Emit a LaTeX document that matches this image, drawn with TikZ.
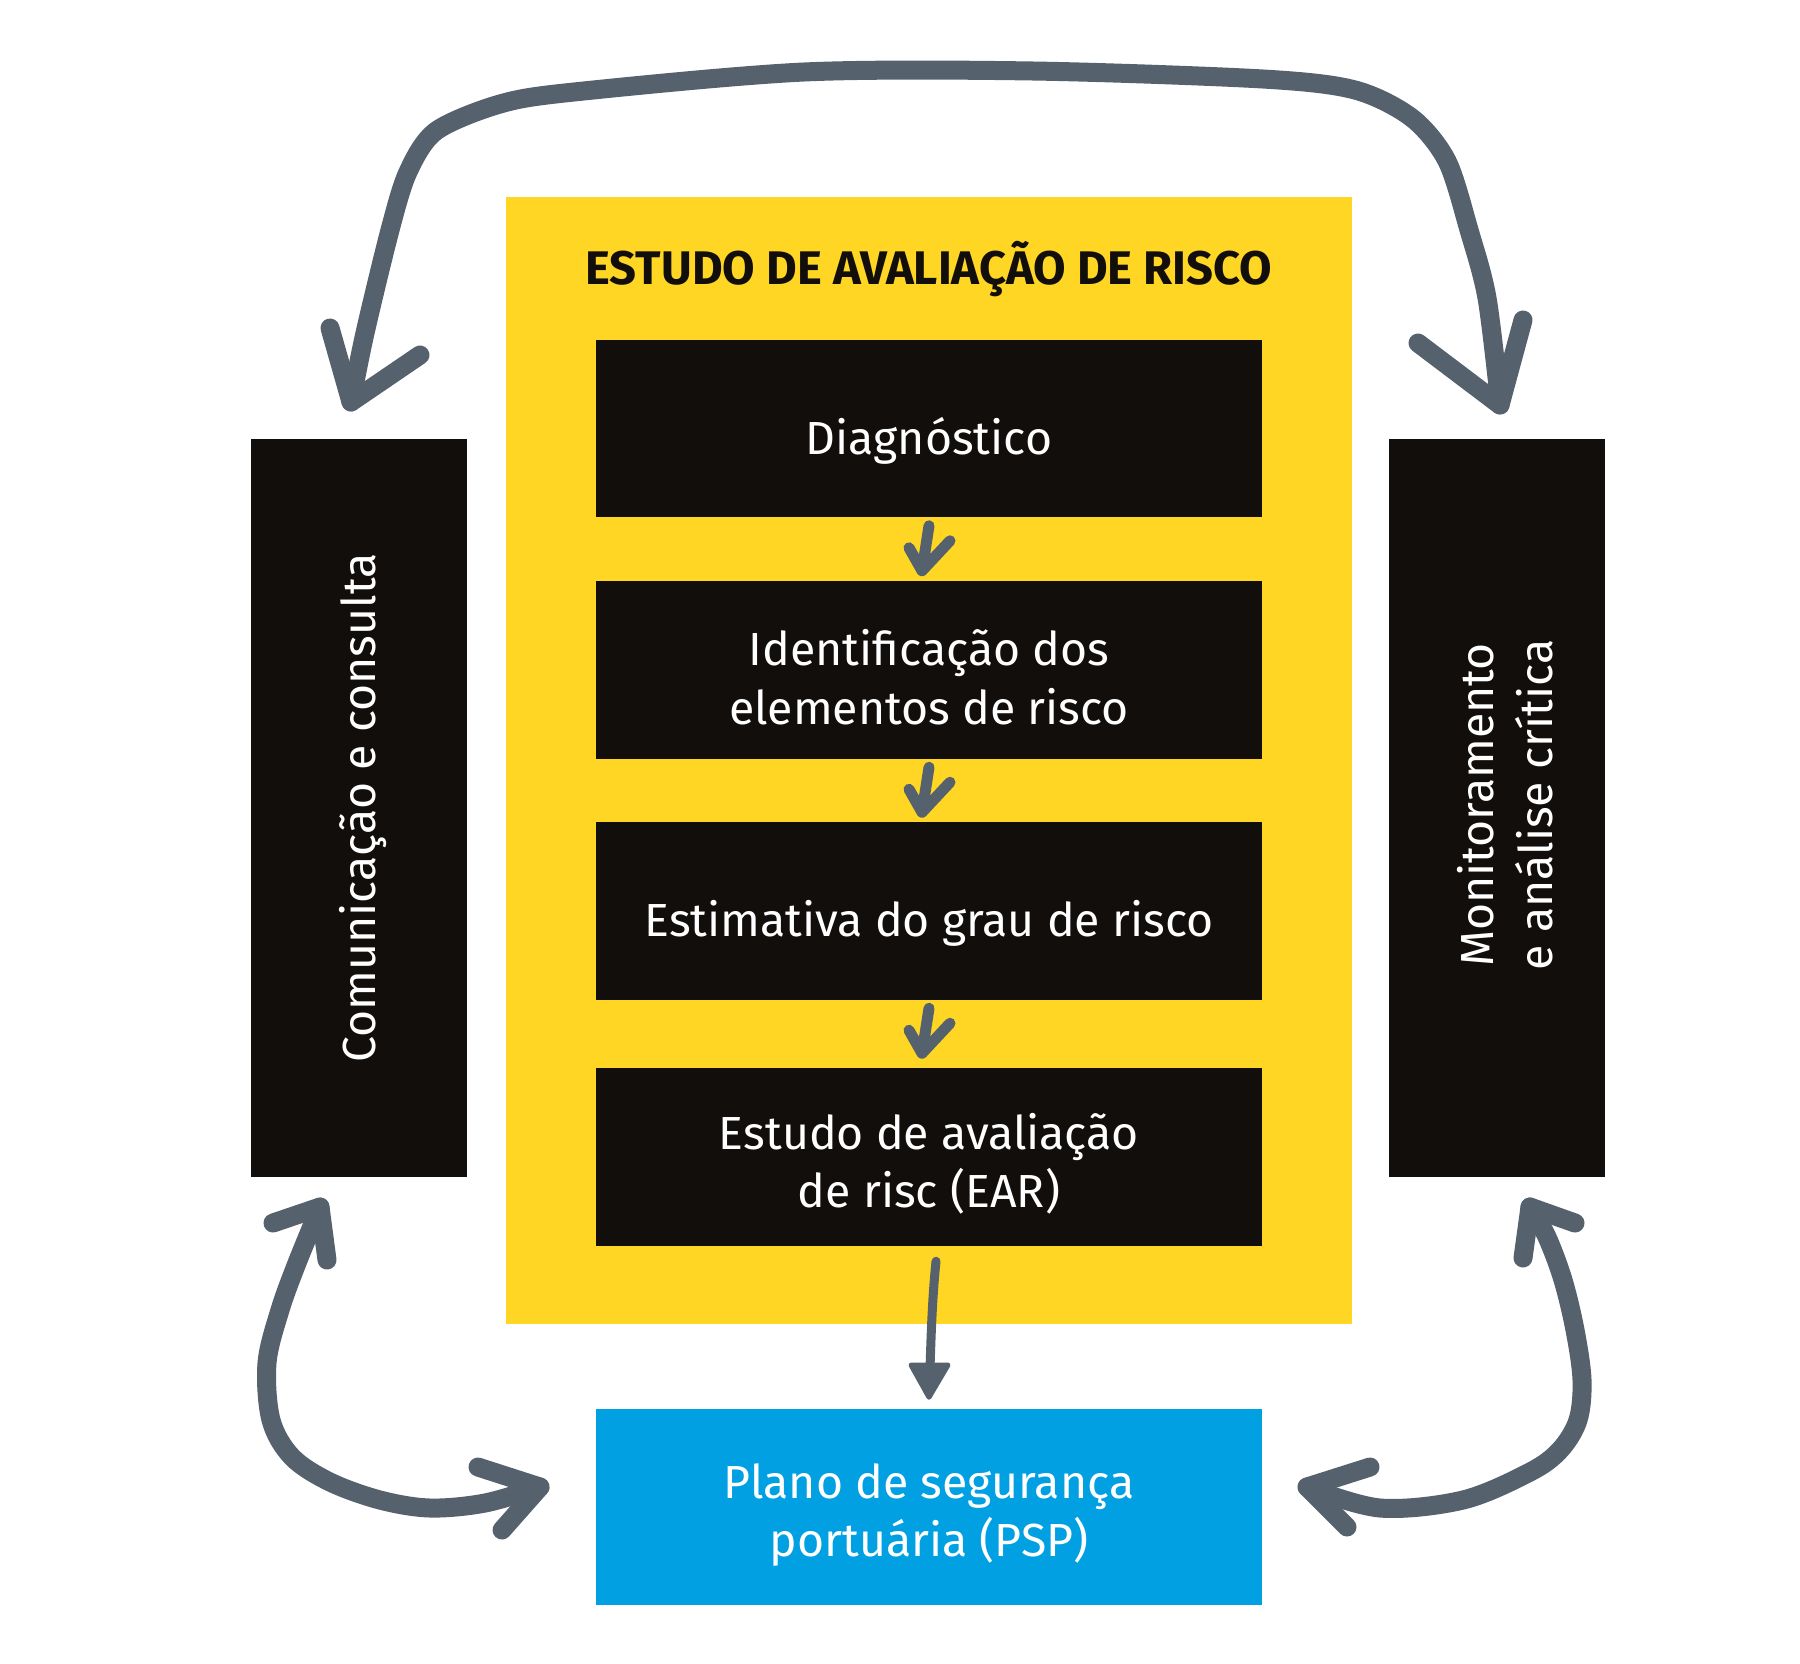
\documentclass[tikz,border=0pt]{standalone}
\usepackage{fontspec}
\setmainfont{Fira Sans}
\definecolor{ylw}{HTML}{FED623}
\definecolor{blk}{HTML}{110E0B}
\definecolor{blu}{HTML}{00A0E2}
\definecolor{gry}{HTML}{55626E}
\begin{document}
\begin{tikzpicture}[x=0.01cm,y=-0.01cm,
  boxtxt/.style={font=\fontsize{13.2}{16.6}\selectfont, text=white, align=center, inner sep=0pt},
  stepbox/.style={fill=blk, minimum width=6.66cm, minimum height=1.77cm, inner sep=0pt},
  sidebox/.style={fill=blk, minimum width=2.16cm, minimum height=7.38cm, inner sep=0pt},
  bigarr/.style={draw=gry, line width=0.19cm, line cap=round, line join=round},
  smallarr/.style={draw=gry, line width=0.11cm, line cap=round, line join=round}]
\useasboundingbox (0,0) rectangle (1800,1663);
\fill[white] (0,0) rectangle (1800,1663);
% yellow frame
\node[fill=ylw, minimum width=8.46cm, minimum height=11.27cm, inner sep=0] (frame) at (929,760.5) {};
\node[font=\bfseries\fontsize{13.4}{16}\selectfont, text=blk] (title) at (929,269) {ESTUDO DE AVALIAÇÃO DE RISCO};
% steps
\node[stepbox] (d1) at (929,428.5) {};
\node[boxtxt, yshift=-0.12cm] (d1t) at (d1) {Diagnóstico};
\node[stepbox] (d2) at (929,670) {};
\node[boxtxt, yshift=-0.07cm] (d2t) at (d2) {Identificação dos\\elementos de risco};
\node[stepbox] (d3) at (929,911) {};
\node[boxtxt, yshift=-0.12cm] (d3t) at (d3) {Estimativa do grau de risco};
\node[stepbox] (d4) at (929,1157) {};
\node[boxtxt, yshift=-0.07cm] (d4t) at (d4) {Estudo de avaliação\\de risc (EAR)};
\node[fill=blu, minimum width=6.66cm, minimum height=1.96cm, inner sep=0pt] (psp) at (929,1507) {};
\node[boxtxt, yshift=-0.08cm] (pspt) at (psp) {Plano de segurança\\portuária (PSP)};
% side boxes
\node[sidebox] (com) at (359,808) {};
\node[boxtxt, rotate=90] (comt) at (363,808) {Comunicação e consulta};
\node[sidebox] (mon) at (1497,808) {};
\node[boxtxt, rotate=90] (mont) at (1505,805) {Monitoramento\\e análise crítica};
% small arrows between steps
\foreach \a/\b in {d1/d2, d2/d3, d3/d4}{
  \draw[smallarr] (\a.south) ++(0,8) -- ++(-7,45) coordinate (tip)
    ++(-13,-23) -- (tip) -- ++(28,-30);
}
% EAR -> PSP
\coordinate (ears) at ([xshift=0.07cm,yshift=-0.15cm]d4.south);
\coordinate (psptip) at ([yshift=0.11cm]psp.north);
\draw[draw=gry, line width=0.09cm, line cap=round] (ears) .. controls (932,1300) and (931,1340) .. (930,1368);
\filldraw[draw=gry, fill=gry, line width=0.05cm, line join=round] (911,1365) -- (948,1365) -- (psptip) -- cycle;
% top double arrow
\coordinate (tl) at (351,402);
\coordinate (tr) at (1500,405);
\draw[bigarr] plot[smooth, tension=0.5] coordinates {(tl) (365,333) (390,230) (408,172) (436,131) (500,104) (574,92) (804,72) (1033,71) (1263,79) (1355,90) (1412,118) (1447,161) (1469,230) (1487,298) (tr)};
\draw[bigarr] (330,328) -- (tl) -- (420,355);
\draw[bigarr] (1418,343) -- (tr) -- (1523,320);
% bottom-left double arrow
\coordinate (blu) at (320,1207);
\coordinate (bll) at (540,1487);
\draw[bigarr] plot[smooth, tension=0.55] coordinates {(blu) (297,1263) (280,1310) (267,1363) (271,1420) (292,1457) (330,1482) (380,1500) (430,1508) (485,1503) (bll)};
\draw[bigarr] (273,1223) -- (blu) -- (327,1260);
\draw[bigarr] (478,1467) -- (bll) -- (502,1530);
% bottom-right double arrow
\coordinate (bru) at (1530,1207);
\coordinate (brl) at (1307,1487);
\draw[bigarr] plot[smooth, tension=0.55] coordinates {(bru) (1547,1237) (1563,1280) (1575,1330) (1582,1380) (1578,1420) (1560,1450) (1530,1472) (1463,1500) (1380,1508) (brl)};
\draw[bigarr] (1575,1223) -- (bru) -- (1523,1258);
\draw[bigarr] (1370,1467) -- (brl) -- (1347,1527);
\end{tikzpicture}
\end{document}
